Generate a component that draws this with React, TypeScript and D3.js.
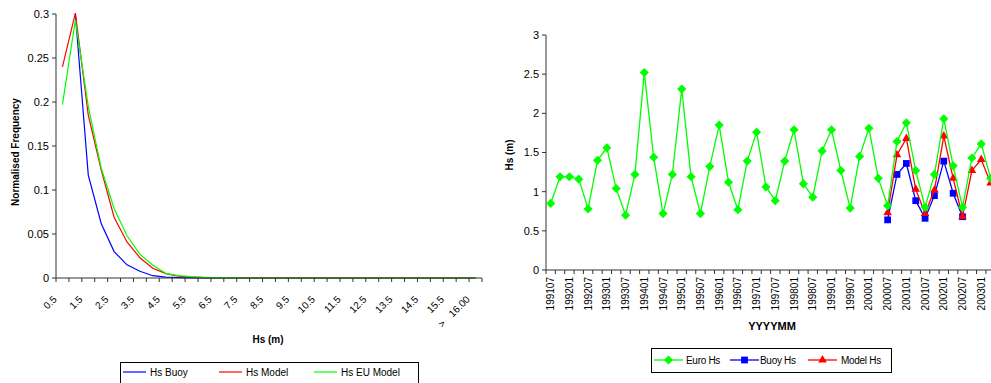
import React from "react";
import * as d3 from "d3";

// ---- left chart: Hs distribution ----
const hsBins = [
  "0.5", "1.0", "1.5", "2.0", "2.5", "3.0", "3.5", "4.0", "4.5", "5.0", "5.5",
  "6.0", "6.5", "7.0", "7.5", "8.0", "8.5", "9.0", "9.5", "10.0", "10.5", "11.0",
  "11.5", "12.0", "12.5", "13.0", "13.5", "14.0", "14.5", "15.0", "15.5", "16.0",
  "> 16.00",
];

const buoyFreq = [
  null, 0.3, 0.117, 0.062, 0.03, 0.015, 0.0076, 0.0026, 0.001, 0.0005, 0.0002,
  0, 0, 0, 0, 0, 0, 0, 0, 0, 0, 0, 0, 0, 0, 0, 0, 0, 0, 0, 0, 0, 0,
];
const modelFreq = [
  0.24, 0.301, 0.185, 0.123, 0.069, 0.041, 0.023, 0.011, 0.005, 0.002, 0.001,
  0.0005, 0.0002, 0, 0, 0, 0, 0, 0, 0, 0, 0, 0, 0, 0, 0, 0, 0, 0, 0, 0, 0, 0,
];
const euModelFreq = [
  0.197, 0.293, 0.195, 0.125, 0.079, 0.048, 0.027, 0.0145, 0.0053, 0.0026, 0.0015,
  0.0008, 0.0004, 0.0002, 0, 0, 0, 0, 0, 0, 0, 0, 0, 0, 0, 0, 0, 0, 0, 0, 0, 0, 0,
];
const freqTicks = [0, 0.05, 0.1, 0.15, 0.2, 0.25, 0.3];

// ---- right chart: quarterly Hs ----
const months = [
  "199107", "199110", "199201", "199204", "199207", "199210", "199301", "199304",
  "199307", "199310", "199401", "199404", "199407", "199410", "199501", "199504",
  "199507", "199510", "199601", "199604", "199607", "199610", "199701", "199704",
  "199707", "199710", "199801", "199804", "199807", "199810", "199901", "199904",
  "199907", "199910", "200001", "200004", "200007", "200010", "200101", "200104",
  "200107", "200110", "200201", "200204", "200207", "200210", "200301", "200304",
];
const euroHs = [
  0.85, 1.19, 1.19, 1.16, 0.78, 1.4, 1.56, 1.04, 0.7, 1.22, 2.52, 1.44,
  0.72, 1.22, 2.31, 1.19, 0.72, 1.32, 1.85, 1.12, 0.77, 1.39, 1.76, 1.06,
  0.885, 1.39, 1.79, 1.1, 0.93, 1.52, 1.79, 1.27, 0.79, 1.45, 1.81, 1.17,
  0.82, 1.64, 1.88, 1.27, 0.8, 1.22, 1.93, 1.33, 0.8, 1.43, 1.61, 1.17,
];
const buoyHs = [
  null, null, null, null, null, null, null, null, null, null, null, null,
  null, null, null, null, null, null, null, null, null, null, null, null,
  null, null, null, null, null, null, null, null, null, null, null, null,
  0.64, 1.22, 1.36, 0.885, 0.66, 0.95, 1.39, 0.98, 0.68, null, null, null,
];
const modelHs = [
  null, null, null, null, null, null, null, null, null, null, null, null,
  null, null, null, null, null, null, null, null, null, null, null, null,
  null, null, null, null, null, null, null, null, null, null, null, null,
  0.73, 1.47, 1.68, 1.03, 0.72, 1.02, 1.71, 1.17, 0.68, 1.27, 1.41, 1.11,
];
const hsTicks = [0, 0.5, 1, 1.5, 2, 2.5, 3];

const FONT = "Arial, 'Liberation Sans', sans-serif";
const AXIS = "#333";

function FreqChart() {
  const x = d3.scaleBand<string>().domain(hsBins).range([56, 482]);
  const y = d3.scaleLinear().domain([0, 0.3]).range([278, 14]);
  const cx = (i: number) => (x(hsBins[i]) as number) + x.bandwidth() / 2;
  const line = d3
    .line<number | null>()
    .defined((d) => d != null)
    .x((_, i) => cx(i))
    .y((d) => y(d as number));

  const series = [
    { name: "Hs Buoy", values: buoyFreq, color: "#0000ff" },
    { name: "Hs Model", values: modelFreq, color: "#ff0000" },
    { name: "Hs EU Model", values: euModelFreq, color: "#00ff00" },
  ];
  const legendX = [123, 219, 314];

  return (
    <g>
      <defs>
        <clipPath id="freqClip">
          <rect x={56} y={12} width={426} height={267} />
        </clipPath>
      </defs>
      <g clipPath="url(#freqClip)">
        {series.map((s) => (
          <path key={s.name} d={line(s.values) || ""} fill="none" stroke={s.color} strokeWidth={1.2} />
        ))}
      </g>
      {/* y axis */}
      <line x1={56} x2={56} y1={14} y2={278} stroke={AXIS} />
      {freqTicks.map((t) => (
        <g key={t} transform={`translate(0,${y(t)})`}>
          <line x1={52} x2={56} stroke={AXIS} />
          <text x={49} dy="0.35em" textAnchor="end" fontSize={11} fill="#000">
            {String(t)}
          </text>
        </g>
      ))}
      {/* x axis */}
      <line x1={56} x2={482} y1={278} y2={278} stroke={AXIS} />
      {hsBins.map((b) => (
        <line key={b} x1={x(b) as number} x2={x(b) as number} y1={278} y2={282} stroke={AXIS} />
      ))}
      <line x1={482} x2={482} y1={278} y2={282} stroke={AXIS} />
      {hsBins.map((b, i) =>
        i % 2 === 0 ? (
          <text
            key={b}
            transform={`translate(${cx(i) - 5},${300}) rotate(-45)`}
            textAnchor="end"
            fontSize={10}
            fill="#000"
          >
            {b.startsWith(">") ? (
              <>
                <tspan>&gt;</tspan>
                <tspan dx={9}>{b.replace("> ", "")}</tspan>
              </>
            ) : (
              b
            )}
          </text>
        ) : null
      )}
      <text x={268} y={343} textAnchor="middle" fontSize={10} fontWeight="bold">
        Hs (m)
      </text>
      <text transform="translate(15,152) rotate(-90)" dy="0.35em" textAnchor="middle" fontSize={10} fontWeight="bold">
        Normalised Frequency
      </text>
      {/* legend */}
      <rect x={120.5} y={362.5} width={298} height={26} fill="#fff" stroke="#000" />
      {series.map((s, i) => (
        <g key={s.name}>
          <line x1={legendX[i]} x2={legendX[i] + 23} y1={372} y2={372} stroke={s.color} strokeWidth={1.2} />
          <text x={legendX[i] + 27} y={376} fontSize={10}>
            {s.name}
          </text>
        </g>
      ))}
    </g>
  );
}

function HsChart() {
  const x = d3.scaleBand<string>().domain(months).range([546, 546 + 48 * 9.36]);
  const y = d3.scaleLinear().domain([0, 3]).range([270, 35]);
  const cx = (i: number) => (x(months[i]) as number) + x.bandwidth() / 2;
  const line = d3
    .line<number | null>()
    .defined((d) => d != null)
    .x((_, i) => cx(i))
    .y((d) => y(d as number));

  const diamond = d3.symbol(d3.symbolSquare, 42)();
  const square = d3.symbol(d3.symbolSquare, 46)();
  const triangle = d3.symbol(d3.symbolTriangle, 32)();

  const series = [
    { name: "Euro Hs", values: euroHs, color: "#00ff00", marker: diamond, rot: 45 },
    { name: "Buoy Hs", values: buoyHs, color: "#0000ff", marker: square, rot: 0 },
    { name: "Model Hs", values: modelHs, color: "#ff0000", marker: triangle, rot: 0 },
  ];
  // drawing order: buoy, model, then euro on top
  const drawOrder = [series[1], series[2], series[0]];
  const legendX = [654, 730, 808];
  const legendText = [686, 760, 841];

  return (
    <g>
      {/* axes */}
      <line x1={546} x2={546} y1={35} y2={270} stroke={AXIS} />
      {hsTicks.map((t) => (
        <g key={t} transform={`translate(0,${y(t)})`}>
          <line x1={542} x2={546} stroke={AXIS} />
          <text x={539} dy="0.35em" textAnchor="end" fontSize={11} fill="#000">
            {String(t)}
          </text>
        </g>
      ))}
      <line x1={546} x2={991} y1={270} y2={270} stroke={AXIS} />
      {months.map((m) => (
        <line key={m} x1={x(m) as number} x2={x(m) as number} y1={270} y2={274} stroke={AXIS} />
      ))}
      {months.map((m, i) =>
        i % 2 === 0 ? (
          <text
            key={m}
            transform={`translate(${cx(i)},${277}) rotate(-90)`}
            dy="0.35em"
            textAnchor="end"
            fontSize={10}
            fill="#000"
          >
            {m}
          </text>
        ) : null
      )}
      {drawOrder.map((s) => (
        <g key={s.name}>
          <path d={line(s.values) || ""} fill="none" stroke={s.color} strokeWidth={1.3} />
          {s.values.map((v, i) =>
            v == null ? null : (
              <path
                key={i}
                d={s.marker || ""}
                transform={`translate(${cx(i)},${y(v)}) rotate(${s.rot})`}
                fill={s.color}
              />
            )
          )}
        </g>
      ))}
      <text x={772} y={330} textAnchor="middle" fontSize={11} fontWeight="bold">
        YYYYMM
      </text>
      <text transform="translate(509,155) rotate(-90)" dy="0.35em" textAnchor="middle" fontSize={10} fontWeight="bold">
        Hs (m)
      </text>
      {/* legend */}
      <rect x={651.5} y={348.5} width={240} height={24} fill="#fff" stroke="#000" />
      {series.map((s, i) => (
        <g key={s.name}>
          <line x1={legendX[i]} x2={legendX[i] + 29} y1={360} y2={360} stroke={s.color} strokeWidth={1.3} />
          <path
            d={s.marker || ""}
            transform={`translate(${legendX[i] + 14.5},360) rotate(${s.rot})`}
            fill={s.color}
          />
          <text x={legendText[i]} y={364} fontSize={10} letterSpacing={-0.3}>
            {s.name}
          </text>
        </g>
      ))}
    </g>
  );
}

export default function App() {
  return (
    <svg
      width={991}
      height={383}
      style={{ position: "absolute", left: 0, top: 0, background: "#fff", fontFamily: FONT }}
    >
      <FreqChart />
      <HsChart />
    </svg>
  );
}
